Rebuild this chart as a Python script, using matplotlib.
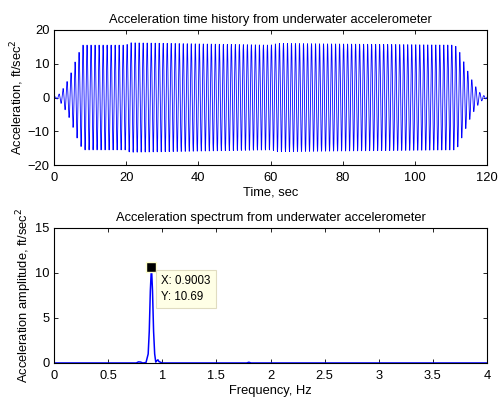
import numpy as np
import matplotlib
matplotlib.use("Agg")
import matplotlib.pyplot as plt

plt.rcParams['font.family'] = ['Liberation Sans', 'DejaVu Sans']
plt.rcParams['font.size'] = 9.3

# time history: drive frequency (from data tip) and envelope
drive_freq = 0.9003
env_time = [0, 1, 2, 3, 4, 5, 6, 7, 8, 20, 21, 60, 62, 111, 112, 113, 114, 115, 116, 117, 118, 119, 120]
env_amp = [0, 0.5, 1.8, 3.5, 5.5, 8.0, 11.0, 13.5, 15.5, 15.5, 16.2, 15.5, 16.0, 15.5, 14.5, 12.0, 9.5, 7.0, 4.8, 3.0, 1.5, 0.6, 0.3]

# spectrum points
spec_freq = [0, 0.76, 0.78, 0.80, 0.82, 0.85, 0.87, 0.88, 0.89, 0.9003, 0.91, 0.92, 0.93, 0.94, 0.95, 0.96, 0.97, 0.99, 1.0, 1.78, 1.80, 1.82, 4.0]
spec_amp = [0, 0, 0.12, 0.1, 0, 0.05, 1.0, 3.5, 8.0, 10.69, 8.0, 3.5, 1.0, 0.1, 0.25, 0.35, 0.15, 0.05, 0, 0, 0.08, 0, 0]

peak_x, peak_y = 0.9003, 10.69

t = np.linspace(0, 120, 24001)
accel = np.interp(t, env_time, env_amp) * np.sin(2 * np.pi * drive_freq * t)

fig = plt.figure(figsize=(5.0, 3.98), dpi=100)
ax1 = fig.add_axes([0.108, 0.585, 0.866, 0.34])
ax2 = fig.add_axes([0.108, 0.088, 0.866, 0.34])

ax1.plot(t, accel, color='blue', lw=0.6)
ax1.set_xlim(0, 120)
ax1.set_ylim(-20, 20)
ax1.set_xticks(range(0, 121, 20))
ax1.set_yticks(range(-20, 21, 10))
ax1.set_title('Acceleration time history from underwater accelerometer', fontsize=9.3, pad=5)
ax1.set_xlabel('Time, sec', labelpad=2)
ax1.set_ylabel('Acceleration, ft/sec$^2$', labelpad=1)

ax2.plot(spec_freq, spec_amp, color='blue', lw=1.1)
ax2.set_xlim(0, 4)
ax2.set_ylim(0, 15)
ax2.set_xticks(np.arange(0, 4.01, 0.5))
ax2.set_xticklabels(['0', '0.5', '1', '1.5', '2', '2.5', '3', '3.5', '4'])
ax2.set_yticks([0, 5, 10, 15])
ax2.set_title('Acceleration spectrum from underwater accelerometer', fontsize=9.3, pad=5)
ax2.set_xlabel('Frequency, Hz', labelpad=2)
ax2.set_ylabel('Acceleration amplitude, ft/sec$^2$', labelpad=1)

ax2.plot([peak_x], [peak_y], 's', color='black', ms=7, mec='#ffffcc', mew=1)
ax2.annotate('X: %.4f\nY: %.2f' % (peak_x, peak_y), xy=(peak_x, peak_y),
             xytext=(7, -6), textcoords='offset points', va='top', ha='left',
             fontsize=8.3, linespacing=1.45,
             bbox=dict(boxstyle='square,pad=0.45', fc='#ffffe6', ec='#e0dcc0', lw=0.8))

for ax in (ax1, ax2):
    ax.tick_params(direction='in', top=True, right=True, length=3, width=0.6, pad=3)
    ax.tick_params(axis='x', pad=5)
    for s in ax.spines.values():
        s.set_linewidth(0.8)

fig.savefig('out.png', dpi=100)
